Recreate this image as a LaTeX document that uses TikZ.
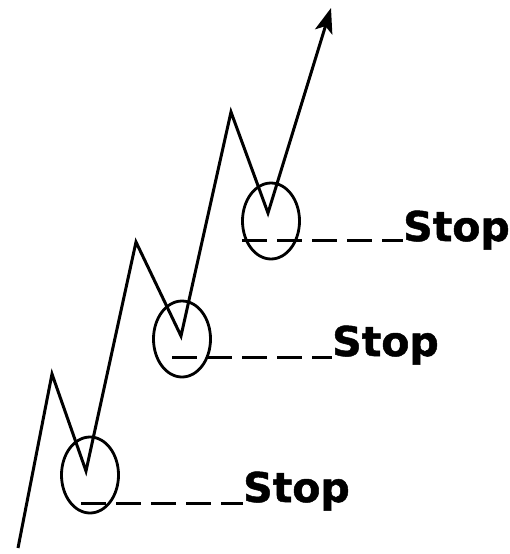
\documentclass[tikz,border=0pt]{standalone}
\usepackage{fontspec}
\setmainfont{DejaVu Sans}[BoldFeatures={FakeBold=1.2}]
\usetikzlibrary{arrows.meta,shapes.geometric}
\begin{document}
\begin{tikzpicture}[x=1pt,y=-1pt,
  trend/.style={line width=3pt,line join=miter},
  zone/.style={draw,ellipse,line width=2.8pt,minimum width=57pt,minimum height=76pt,inner sep=0pt},
  stopline/.style={line width=3pt,dash pattern=on 25pt off 10pt},
  stoplabel/.style={anchor=base west,inner sep=0pt,font=\bfseries\fontsize{41}{41}\selectfont}]
\useasboundingbox (0,0) rectangle (510,554);
\coordinate (s) at (18,548);
\coordinate (p1) at (52,374);
\coordinate (t1) at (86,471);
\coordinate (p2) at (136,242);
\coordinate (t2) at (181,336);
\coordinate (p3) at (231,112);
\coordinate (t3) at (268,213);
\coordinate (e) at (331,8);
\draw[trend,-{Stealth[length=25pt,width=18pt,inset=6pt]}] (s) -- (p1) -- (t1) -- (p2) -- (t2) -- (p3) -- (t3) -- (e);
\node[zone] (z1) at (90,475) {};
\node[zone] (z2) at (182,339) {};
\node[zone] (z3) at (271,221) {};
\node[stoplabel] (l1) at (243,502) {Stop};
\node[stoplabel] (l2) at (332,356) {Stop};
\node[stoplabel] (l3) at (403,241) {Stop};
\coordinate (d1) at (81,503);
\coordinate (d2) at (172,357);
\coordinate (d3) at (242,240);
\draw[stopline] (d1) -- (d1 -| l1.west);
\draw[stopline] (d2) -- (d2 -| l2.west);
\draw[stopline] (d3) -- (d3 -| l3.west);
\end{tikzpicture}
\end{document}
